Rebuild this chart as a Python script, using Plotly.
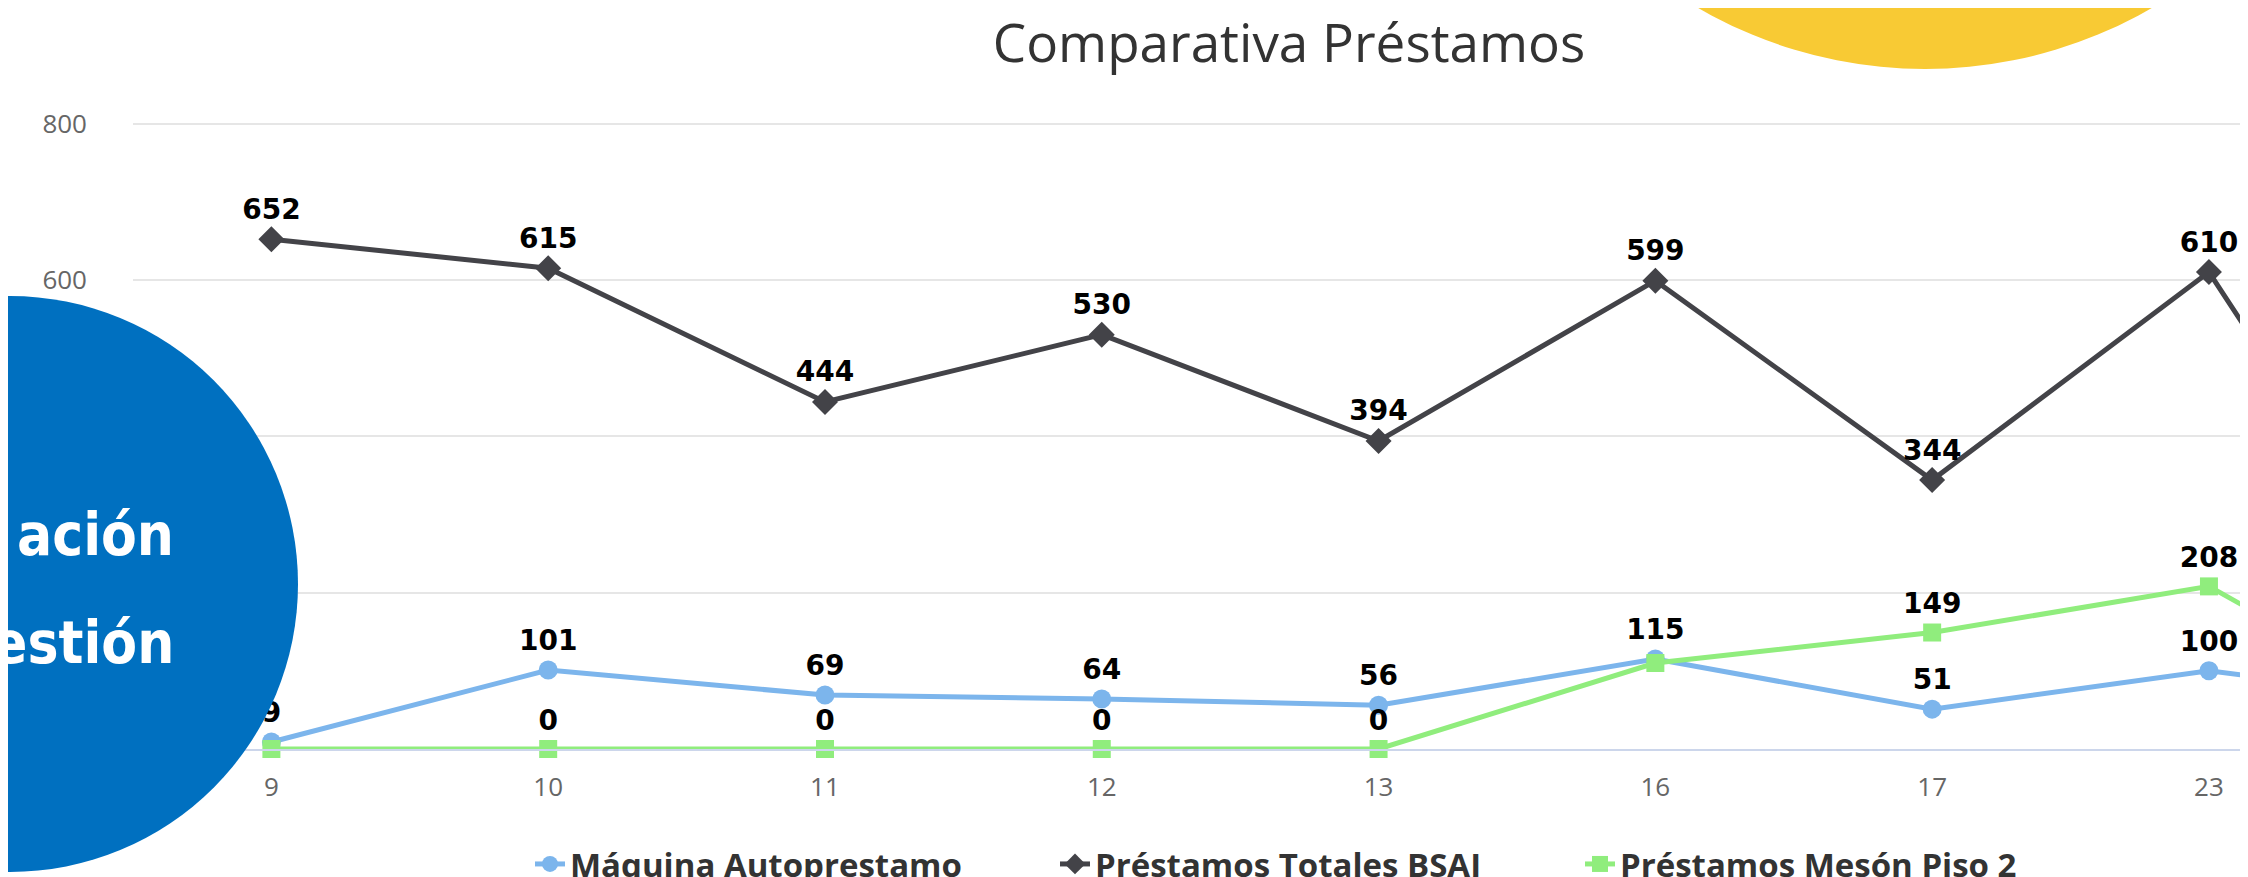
import plotly.graph_objects as go

# categorias (dias) y series
dias = ["9", "10", "11", "12", "13", "16", "17", "23", "24"]
maquina = [9, 101, 69, 64, 56, 115, 51, 100, 55]
totales = [652, 615, 444, 530, 394, 599, 344, 610, 70]
meson = [0, 0, 0, 0, 0, 110, 149, 208, 10]
# etiquetas que el grafico original oculta por solaparse
ocultas_meson = [0, 5]

W, H = 2248, 877
L, R, T, B = 125, 0, 114, 136
OFF = 8  # margen del body de la pagina

def px(x):
    return (x - OFF - L) / (W - L - R)

def py(y):
    return (H - B - (y - OFF)) / (H - T - B)

def etiquetas(vals, ocultas=()):
    return ["" if i in ocultas else str(v) for i, v in enumerate(vals)]

lbl_font = dict(family="DejaVu Sans", size=28, color="#000000", weight="bold")

fig = go.Figure()
fig.add_trace(go.Scatter(x=dias, y=maquina, name="Máquina Autoprestamo",
                         mode="lines+markers+text", text=etiquetas(maquina),
                         textposition="top center", textfont=lbl_font,
                         line=dict(color="#7cb5ec", width=5),
                         marker=dict(symbol="circle", size=19, color="#7cb5ec"),
                         cliponaxis=False))
fig.add_trace(go.Scatter(x=dias, y=totales, name="Préstamos Totales BSAJ",
                         mode="lines+markers+text", text=etiquetas(totales),
                         textposition="top center", textfont=lbl_font,
                         line=dict(color="#434348", width=5),
                         marker=dict(symbol="diamond", size=20, color="#434348"),
                         cliponaxis=False))
fig.add_trace(go.Scatter(x=dias, y=meson, name="Préstamos Mesón Piso 2",
                         mode="lines+markers+text", text=etiquetas(meson, ocultas_meson),
                         textposition="top center", textfont=lbl_font,
                         line=dict(color="#90ed7d", width=5),
                         marker=dict(symbol="square", size=18, color="#90ed7d"),
                         cliponaxis=False))

# decoracion de la diapositiva
fig.add_shape(type="circle", xref="paper", yref="paper", layer="above",
              x0=px(1925 - 452), x1=px(1925 + 452), y0=py(69), y1=py(69 - 904),
              fillcolor="#f8ca34", line_width=0)
fig.add_shape(type="circle", xref="paper", yref="paper", layer="above",
              x0=px(10 - 288), x1=px(10 + 288), y0=py(872), y1=py(296),
              fillcolor="#0070c0", line_width=0)
for txt, yc in [("ación", 535), ("estión", 643)]:
    fig.add_annotation(text=txt, xref="paper", yref="paper", x=px(176), y=py(yc),
                       xanchor="right", yanchor="middle", showarrow=False,
                       font=dict(family="DejaVu Sans Condensed, Liberation Sans Narrow",
                                 size=58, color="white", weight="bold"))

fig.update_layout(
    width=W, height=H,
    margin=dict(l=L, r=R, t=T, b=B, autoexpand=False),
    paper_bgcolor="white", plot_bgcolor="white",
    title=dict(text="Comparativa Préstamos", xref="container", x=(1289 - OFF) / W,
               xanchor="center", yref="container", y=1 - (43 - OFF) / H, yanchor="middle",
               font=dict(family="Open Sans", size=53, color="#333333")),
    showlegend=True,
    legend=dict(orientation="h", xref="container", yref="container",
                x=522 / W, xanchor="left", y=1 - 828 / H, yanchor="top",
                font=dict(family="Open Sans", size=33, color="#333333", weight="bold"),
                entrywidth=480, entrywidthmode="pixels", bgcolor="rgba(0,0,0,0)"),
    xaxis=dict(type="category", range=[-0.5, 7.17], showgrid=False,
               showline=True, linecolor="#ccd6eb", linewidth=2, ticks="",
               tickfont=dict(family="Open Sans", size=26, color="#666666"),
               ticklabelstandoff=14, zeroline=False),
    yaxis=dict(range=[0, 802], tickvals=[0, 200, 400, 600, 800], showgrid=True,
               gridcolor="#e6e6e6", gridwidth=2, zeroline=False, ticks="",
               tickfont=dict(family="Open Sans", size=26, color="#666666"),
               ticklabelstandoff=45),
)

fig.write_html("out.html")
